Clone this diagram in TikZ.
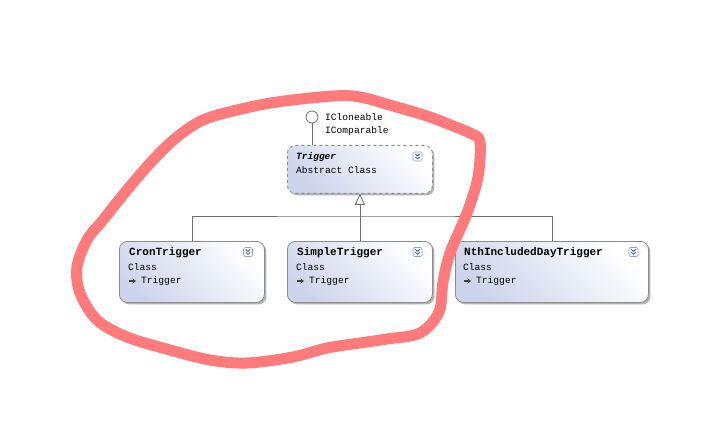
\documentclass[tikz,border=0pt]{standalone}
\usepackage{fontspec}
\setmonofont{Liberation Mono}
\usetikzlibrary{arrows.meta,shadows,calc}
\definecolor{boxedge}{HTML}{8C8C8C}
\definecolor{boxfill}{HTML}{CDD5EC}
\definecolor{conncol}{HTML}{6E6E6E}
\definecolor{hilite}{HTML}{FF7A7A}
\definecolor{iconedge}{HTML}{8FA3C8}
\definecolor{iconmark}{HTML}{2F4F9F}
\tikzset{
  classbox/.style={draw=boxedge, line width=0.8pt, rounded corners=8pt,
    top color=white, bottom color=boxfill, shading angle=-45,
    drop shadow={shadow xshift=2pt, shadow yshift=-2pt, fill=black, opacity=0.3},
    anchor=north west, inner sep=0pt, minimum height=61pt},
  titletxt/.style={anchor=west, inner sep=0pt, font=\ttfamily\bfseries\fontsize{11}{12}\selectfont},
  bodytxt/.style={anchor=west, inner sep=0pt, font=\ttfamily\fontsize{9.6}{11}\selectfont},
  conn/.style={draw=conncol, line width=0.8pt},
  inharrow/.style={-{Triangle[open, length=11pt, width=10pt, fill=white]}},
  assoc/.style={-{Stealth[length=3.5pt,width=5pt]}, line width=1.3pt, black!75},
  collapse/.pic={
    \draw[iconedge, fill=white, rounded corners=1.5pt, line width=0.6pt] (-4.5,-4.5) rectangle (4.5,4.5);
    \draw[iconmark, line width=0.8pt] (-2.2,-2.6) -- (0,-0.6) -- (2.2,-2.6) (-2.2,0.3) -- (0,2.3) -- (2.2,0.3);
  },
  hl/.style={draw=hilite, line width=11pt, line cap=round, line join=round}
}
\begin{document}
\begin{tikzpicture}[x=1pt,y=-1pt]
\useasboundingbox[fill=white] (0,0) rectangle (711,446);

% abstract class
\node[classbox, dashed, minimum width=145pt, minimum height=48pt] (trigger) at (287,145) {};
\node[anchor=west, inner sep=0pt, font=\ttfamily\bfseries\itshape\fontsize{9.5}{11}\selectfont] (triggertitle) at (296,157) {Trigger};
\node[bodytxt] (triggerkind) at (296,170) {Abstract Class};
\pic at (417.5,156.5) {collapse};

% interfaces lollipop
\node[circle, draw=conncol, fill=white, line width=0.8pt, minimum size=12pt, inner sep=0pt] (lolli) at (312,117) {};
\draw[conn] (lolli.south) -- (lolli.south |- trigger.north);
\node[bodytxt] (iclone) at (325,117) {ICloneable};
\node[bodytxt] (icomp) at (325,131) {IComparable};

% concrete classes
\node[classbox, minimum width=145pt] (cron) at (119,241) {};
\node[titletxt] (crontitle) at (129,253) {CronTrigger};
\node[bodytxt] (cronkind) at (128,267) {Class};
\coordinate (cronarr) at (129,281);
\draw[assoc] (cronarr) -- ++(7,0);
\node[bodytxt] (cronbase) at (141,281) {Trigger};
\pic at (248,252) {collapse};

\node[classbox, minimum width=145pt] (simple) at (287,241) {};
\node[titletxt] (simpletitle) at (297,253) {SimpleTrigger};
\node[bodytxt] (simplekind) at (296,267) {Class};
\coordinate (simplearr) at (297,281);
\draw[assoc] (simplearr) -- ++(7,0);
\node[bodytxt] (simplebase) at (309,281) {Trigger};
\pic at (417.5,252) {collapse};

\node[classbox, minimum width=193pt] (nth) at (455,241) {};
\node[titletxt] (nthtitle) at (464,253) {NthIncludedDayTrigger};
\node[bodytxt] (nthkind) at (463,267) {Class};
\coordinate (ntharr) at (464,281);
\draw[assoc] (ntharr) -- ++(7,0);
\node[bodytxt] (nthbase) at (476,281) {Trigger};
\pic at (633.5,252) {collapse};

% inheritance connectors
\coordinate (bus) at (359.5,216);
\draw[conn] (cron.north) |- (bus) -| (nth.north);
\draw[conn, inharrow] (simple.north) -- (trigger.south);

% red freehand highlight
\draw[hl] plot[smooth cycle, tension=0.55] coordinates {
 (480,142) (478,177) (467,213) (450,253) (443,282) (439,312) (420,333) (387,339)
 (360,343) (327,348) (293,357) (247,363) (210,360) (170,350) (127,337) (97,320)
 (80,293) (77,267) (87,240) (103,220) (127,190) (153,160) (177,137) (203,120)
 (237,110) (277,102) (333,96) (360,97) (393,106) (427,116) (453,126) (472,134)};
\end{tikzpicture}
\end{document}
